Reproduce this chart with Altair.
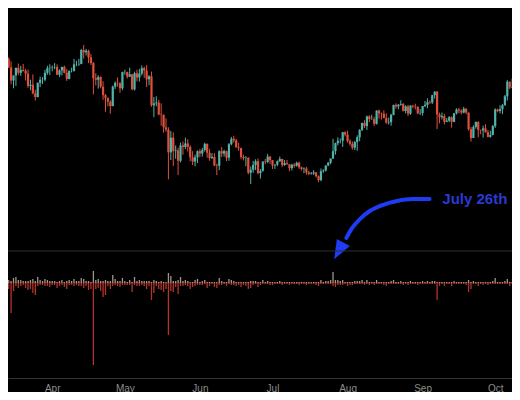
import altair as alt
import pandas as pd

# ---- daily candles, 2021-03-13 .. 2021-10-08 (price in $k) ----
first_open = 57.2
close = [
    61.2, 59.0, 55.6, 56.9, 58.9, 57.6, 58.3, 58.1, 57.4, 54.2, 54.5, 52.3, 51.3, 55.0, 55.8, 55.8, 57.6, 58.8, 58.9,
    59.0, 59.1, 57.1, 58.2, 59.1, 57.6, 56.0, 58.1, 58.1, 59.8, 59.8, 59.9, 63.5, 62.9, 63.3, 61.6, 60.1, 56.2, 55.8, 56.5,
    54.0, 51.8, 51.1, 50.1, 49.0, 54.0, 55.0, 54.9, 53.6, 57.8,
    57.8, 56.6, 57.2, 53.3, 57.5, 56.4, 57.4, 58.8, 58.2, 55.9, 56.7, 49.2, 49.7, 49.9, 46.8, 46.7, 43.5, 42.9, 37.0, 40.8,
    37.3, 37.5, 34.8, 38.8, 38.4, 39.3, 38.4, 35.7, 34.6, 35.7, 37.3,
    36.7, 37.6, 39.2, 36.9, 35.5, 35.8, 33.6, 33.5, 37.3, 36.7, 37.3, 35.6, 39.1, 40.5, 40.1, 38.3, 38.1, 35.8, 35.5, 35.6,
    31.7, 32.5, 33.7, 34.7, 31.6, 32.2, 34.6, 34.5, 35.9, 35.0,
    33.6, 33.8, 34.7, 35.3, 33.7, 34.2, 33.9, 32.9, 33.8, 33.5, 34.3, 33.1, 32.7, 32.8, 31.8, 31.4, 31.5, 31.8, 30.8, 29.8,
    32.1, 32.3, 33.6, 34.3, 35.4, 37.3, 39.4, 40.0, 40.0, 42.2, 41.6,
    39.9, 39.2, 38.2, 39.7, 40.9, 42.8, 44.6, 43.8, 46.3, 45.6, 45.6, 44.4, 47.8, 47.1, 47.0, 45.9, 44.7, 44.8, 46.7, 49.3,
    48.9, 49.3, 49.5, 47.7, 48.9, 47.0, 49.1, 48.9, 48.8, 47.1, 47.2,
    49.0, 49.3, 50.0, 49.9, 51.8, 52.7, 46.8, 46.1, 46.4, 44.9, 45.2, 46.1, 44.9, 47.1, 48.1, 47.8, 47.3, 48.3, 47.3, 43.0,
    40.7, 43.6, 44.9, 42.8, 42.7, 43.2, 42.2, 41.0, 41.5, 43.8,
    48.1, 47.7, 48.2, 49.2, 51.5, 55.3, 53.8, 53.9,
]
high = [
    61.7, 61.6, 60.6, 56.9, 58.9, 60.0, 59.4, 59.9, 58.6, 58.4, 55.8, 57.2, 53.2, 55.1, 56.6, 56.5, 58.4, 59.4, 59.8,
    59.5, 60.1, 59.8, 58.5, 59.2, 59.5, 58.6, 58.2, 58.9, 61.2, 60.7, 61.2, 63.8, 64.8, 63.8, 63.6, 62.5, 60.4, 57.5, 57.0,
    56.7, 55.4, 52.1, 51.2, 50.5, 54.3, 55.4, 56.4, 55.2, 57.9,
    58.4, 57.9, 58.9, 57.3, 57.9, 58.4, 58.6, 59.5, 59.2, 59.6, 57.0, 57.9, 51.3, 51.5, 50.6, 49.7, 46.8, 45.8, 43.5, 42.5,
    42.2, 38.8, 38.2, 39.5, 39.8, 40.8, 40.4, 38.8, 37.3, 36.4, 37.5,
    37.9, 38.2, 39.5, 39.3, 37.9, 36.8, 36.8, 34.1, 37.5, 38.4, 37.7, 37.4, 39.4, 41.0, 41.3, 40.5, 39.5, 38.2, 36.4, 36.0,
    35.7, 33.3, 34.8, 35.2, 35.4, 32.7, 34.7, 35.3, 36.6, 36.0,
    35.0, 33.9, 34.9, 35.9, 35.3, 35.0, 35.0, 33.9, 34.0, 34.2, 34.6, 34.6, 33.3, 33.1, 33.2, 32.2, 31.9, 32.4, 31.9, 31.0,
    32.8, 32.6, 33.6, 34.5, 35.4, 40.5, 39.5, 40.9, 40.6, 42.3, 42.4,
    42.6, 40.4, 39.8, 39.9, 41.4, 43.0, 44.7, 45.3, 46.5, 46.6, 46.7, 46.2, 47.9, 48.1, 47.3, 47.9, 47.1, 46.0, 47.0, 49.3,
    49.7, 49.5, 50.5, 49.8, 49.2, 49.3, 49.2, 49.3, 49.6, 48.9, 48.2,
    49.0, 50.3, 51.0, 50.5, 51.9, 52.8, 52.9, 47.3, 47.3, 47.0, 45.9, 46.4, 46.3, 47.2, 48.4, 48.5, 48.1, 48.8, 48.4, 47.3,
    43.6, 44.0, 44.9, 45.0, 42.9, 43.9, 44.3, 42.8, 42.6, 44.1,
    48.4, 48.3, 49.2, 49.5, 51.9, 55.7, 55.3, 56.1,
]
low = [
    56.1, 58.9, 54.6, 53.6, 54.2, 57.0, 56.8, 57.9, 55.6, 53.7, 53.1, 52.0, 50.4, 51.3, 53.9, 54.7, 55.4, 57.1, 57.0,
    58.0, 58.5, 57.0, 56.5, 56.9, 57.4, 55.5, 55.9, 57.7, 57.9, 59.3, 59.4, 59.8, 61.3, 62.1, 60.1, 59.6, 52.0, 54.3, 53.5,
    53.6, 50.6, 47.5, 48.9, 47.0, 48.9, 53.4, 54.0, 52.4, 53.1,
    57.1, 56.1, 56.5, 53.1, 53.0, 55.4, 55.3, 56.9, 56.3, 53.9, 54.4, 48.8, 46.1, 48.9, 46.6, 43.9, 42.1, 42.3, 30.0, 35.0,
    33.5, 35.3, 31.1, 34.4, 36.4, 37.8, 37.2, 34.7, 33.7, 33.4, 34.2,
    35.7, 35.9, 37.2, 35.6, 34.8, 35.3, 33.4, 31.1, 32.4, 35.8, 35.9, 34.7, 34.8, 38.8, 39.5, 38.2, 37.4, 35.2, 34.9, 33.4,
    31.3, 28.8, 31.7, 32.4, 31.3, 30.2, 32.0, 33.9, 34.2, 34.0,
    32.7, 32.7, 33.4, 34.5, 33.2, 33.5, 33.8, 32.1, 32.3, 33.0, 33.3, 32.7, 32.3, 31.6, 31.2, 31.1, 31.2, 31.1, 30.5, 29.3,
    29.5, 31.7, 32.0, 33.4, 33.9, 35.3, 36.4, 38.8, 39.3, 38.4, 41.1,
    39.5, 38.7, 37.7, 37.6, 37.4, 39.9, 42.5, 43.3, 42.8, 44.8, 45.4, 43.8, 44.2, 45.7, 45.5, 45.8, 44.4, 44.2, 43.9, 46.6,
    48.3, 48.1, 49.1, 47.6, 47.1, 46.4, 46.7, 48.4, 48.1, 46.9, 46.7,
    46.5, 48.7, 48.4, 49.5, 49.5, 50.9, 43.0, 44.5, 45.5, 44.2, 44.8, 44.8, 43.4, 44.8, 46.8, 47.1, 46.8, 47.1, 46.9, 42.6,
    39.8, 40.7, 43.1, 40.9, 41.7, 40.8, 42.1, 40.9, 40.8, 41.4,
    43.3, 47.4, 47.1, 46.9, 49.1, 50.4, 53.4, 53.7,
]

# ---- lower pane: liquidations (longs down, shorts up) ----
longs = [
    -0.3, -0.6, -3.0, -0.8, -0.3, -0.5, -0.3, -0.2, -0.5, -0.7, -0.6, -1.0, -1.2, -0.3, -0.2, -0.2, -0.3, -0.3, -0.4,
    -0.2, -0.2, -0.5, -0.3, -0.2, -0.4, -0.6, -0.2, -0.2, -0.3, -0.2, -0.3, -0.3, -0.5, -0.3, -0.7, -0.6, -8.2, -0.6, -0.5,
    -0.8, -1.4, -1.2, -0.3, -0.6, -0.3, -0.2, -0.3, -0.4, -0.2,
    -0.2, -0.2, -0.2, -0.9, -0.2, -0.3, -0.3, -0.2, -0.3, -0.6, -0.3, -1.7, -1.0, -0.3, -0.6, -0.7, -0.9, -0.6, -5.2, -0.8,
    -0.9, -0.4, -1.1, -0.3, -0.3, -0.2, -0.3, -0.6, -0.4, -0.3, -0.2,
    -0.2, -0.2, -0.1, -0.5, -0.3, -0.1, -0.4, -0.5, -0.2, -0.2, -0.1, -0.3, -0.1, -0.2, -0.2, -0.3, -0.2, -0.4, -0.2, -0.3,
    -0.6, -0.5, -0.2, -0.1, -0.4, -0.2, -0.1, -0.1, -0.1, -0.2,
    -0.2, -0.1, -0.1, -0.1, -0.2, -0.1, -0.1, -0.2, -0.1, -0.1, -0.1, -0.2, -0.1, -0.1, -0.2, -0.1, -0.1, -0.1, -0.2, -0.3,
    -0.1, -0.1, -0.1, -0.1, -0.1, -0.3, -0.4, -0.2, -0.2, -0.2, -0.1,
    -0.3, -0.2, -0.2, -0.1, -0.1, -0.1, -0.1, -0.2, -0.1, -0.2, -0.1, -0.2, -0.1, -0.1, -0.1, -0.2, -0.3, -0.1, -0.1, -0.1,
    -0.1, -0.1, -0.1, -0.2, -0.1, -0.2, -0.1, -0.1, -0.1, -0.2, -0.1,
    -0.1, -0.1, -0.1, -0.1, -0.1, -0.1, -1.7, -0.3, -0.1, -0.3, -0.1, -0.1, -0.3, -0.1, -0.1, -0.1, -0.1, -0.1, -0.2, -0.9,
    -0.6, -0.1, -0.1, -0.3, -0.1, -0.2, -0.1, -0.2, -0.1, -0.1,
    -0.1, -0.1, -0.1, -0.1, -0.1, -0.1, -0.3, -0.1,
]
shorts = [
    0.2, 0.3, 0.2, 0.5, 0.6, 0.3, 0.3, 0.2, 0.2, 0.2, 0.3, 0.4, 0.2, 0.6, 0.3, 0.2, 0.4, 0.3, 0.2,
    0.2, 0.2, 0.1, 0.2, 0.3, 0.1, 0.2, 0.3, 0.2, 0.4, 0.2, 0.2, 0.5, 0.4, 0.2, 0.2, 0.1, 1.2, 0.3, 0.4,
    0.2, 0.2, 0.3, 0.2, 0.2, 0.8, 0.4, 0.2, 0.2, 0.5,
    0.2, 0.1, 0.3, 0.1, 0.6, 0.2, 0.3, 0.2, 0.2, 0.2, 0.2, 0.1, 0.3, 0.2, 0.1, 0.2, 0.1, 0.1, 1.0, 0.7,
    0.2, 0.2, 0.3, 0.6, 0.2, 0.3, 0.2, 0.1, 0.1, 0.3, 0.4,
    0.1, 0.2, 0.3, 0.1, 0.1, 0.1, 0.1, 0.1, 0.5, 0.2, 0.1, 0.1, 0.4, 0.3, 0.2, 0.1, 0.1, 0.1, 0.1, 0.1,
    0.1, 0.2, 0.2, 0.2, 0.1, 0.1, 0.3, 0.1, 0.2, 0.1,
    0.1, 0.1, 0.1, 0.2, 0.1, 0.1, 0.1, 0.1, 0.1, 0.1, 0.1, 0.1, 0.1, 0.1, 0.1, 0.1, 0.1, 0.1, 0.1, 0.1,
    0.3, 0.1, 0.2, 0.2, 0.3, 1.1, 0.3, 0.3, 0.2, 0.3, 0.1,
    0.1, 0.1, 0.1, 0.2, 0.2, 0.2, 0.3, 0.1, 0.3, 0.1, 0.1, 0.1, 0.3, 0.1, 0.1, 0.1, 0.1, 0.1, 0.2, 0.3,
    0.1, 0.1, 0.2, 0.1, 0.1, 0.1, 0.2, 0.1, 0.1, 0.1, 0.1,
    0.2, 0.1, 0.2, 0.1, 0.2, 0.2, 0.1, 0.1, 0.1, 0.1, 0.1, 0.1, 0.1, 0.2, 0.1, 0.1, 0.1, 0.1, 0.1, 0.3,
    0.1, 0.2, 0.1, 0.1, 0.1, 0.1, 0.1, 0.1, 0.1, 0.2,
    0.5, 0.1, 0.1, 0.1, 0.2, 0.4, 0.1, 0.1,
]

month_labels = ["Apr", "May", "Jun", "Jul", "Aug", "Sep", "Oct"]

# ---- annotation (arrow path and label, in date / price units) ----
arrow_dates = ["2021-09-03T21:00:00Z", "2021-08-27T14:00:00Z", "2021-08-21T12:00:00Z", "2021-08-15T10:00:00Z",
               "2021-08-10T05:00:00Z", "2021-08-06T02:00:00Z", "2021-08-02T22:00:00Z", "2021-07-31T12:00:00Z"]
arrow_prices = [24.9, 24.9, 24.4, 23.35, 21.8, 19.7, 17.4, 14.8]
head_date = "2021-07-29T00:00:00Z"
head_price = 12.2
label_date = "2021-09-09T04:00:00Z"
label_price = 24.9
label_text = "July 26th Short Squeeze"
head_shape = "M -0.48 0.88 L 0.75 -0.16 L -0.27 -0.72 Z"

dates = pd.date_range("2021-03-13", periods=len(close), freq="D").strftime("%Y-%m-%d")
opens = [first_open] + close[:-1]
df = pd.DataFrame({"date": dates, "open": opens, "close": close, "high": high, "low": low,
                   "longs": longs, "shorts": shorts})
df["dir"] = ["up" if c >= o else "down" for o, c in zip(opens, close)]
df["zero"] = 0.0

arrow_df = pd.DataFrame({"date": arrow_dates, "price": arrow_prices})
head_df = pd.DataFrame({"date": [head_date], "price": [head_price]})
label_df = pd.DataFrame({"date": [label_date], "price": [label_price], "text": [label_text]})
line_df = pd.DataFrame({"v": [0.0]})
sep_df = pd.DataFrame({"v": [3.2]})

xscale = alt.Scale(type="utc", domain=[alt.DateTime(year=2021, month=3, date=15, hours=19, utc=True),
                                       alt.DateTime(year=2021, month=10, date=5, hours=21, utc=True)])
tick_vals = [alt.DateTime(year=2021, month=m, date=1, utc=True) for m in range(4, 11)]
xaxis = alt.Axis(values=tick_vals, format="%b", title=None, grid=False, ticks=False, offset=-14,
                 domainColor="#333333", domainWidth=1, labelColor="#8c8c8c", labelFontSize=10,
                 labelFont="Liberation Sans", labelPadding=5, labelFlush=False)
X = alt.X("date:T", scale=xscale, axis=xaxis)

pscale = alt.Scale(domain=[-25.09, 74.39], zero=False, nice=False)
iscale = alt.Scale(domain=[-10.9, 27.5], zero=False, nice=False)
cscale = alt.Scale(domain=["up", "down"], range=["#52b3aa", "#e0503c"])

wick = alt.Chart(df).mark_rule(strokeWidth=1, clip=True).encode(
    x=X, y=alt.Y("low:Q", scale=pscale, axis=None), y2="high:Q",
    color=alt.Color("dir:N", scale=cscale, legend=None))
body = alt.Chart(df).mark_bar(size=2.2, clip=True).encode(
    x=X, y=alt.Y("open:Q", scale=pscale, axis=None), y2="close:Q",
    color=alt.Color("dir:N", scale=cscale, legend=None))
arrow = alt.Chart(arrow_df).mark_line(color="#1f3cf5", strokeWidth=4, interpolate="monotone",
                                      strokeCap="round", clip=True).encode(
    x=X, y=alt.Y("price:Q", scale=pscale, axis=None))
head = alt.Chart(head_df).mark_point(shape=head_shape, filled=True, size=650,
                                     color="#1f3cf5", opacity=1, clip=True).encode(
    x=X, y=alt.Y("price:Q", scale=pscale, axis=None))
label = alt.Chart(label_df).mark_text(align="left", baseline="middle", fontSize=15, fontWeight="bold",
                                      font="Liberation Sans", color="#2c3ad0", clip=True).encode(
    x=X, y=alt.Y("price:Q", scale=pscale, axis=None), text="text:N")

price = alt.layer(wick, body, arrow, head, label)

sep = alt.Chart(sep_df).mark_rule(color="#2e2e2e", strokeWidth=1).encode(
    y=alt.Y("v:Q", scale=iscale, axis=None))
base = alt.Chart(line_df).mark_rule(color="#5e1a14", strokeWidth=1).encode(
    y=alt.Y("v:Q", scale=iscale, axis=None))
long_bars = alt.Chart(df).mark_rule(color="#b5342a", strokeWidth=1.3, clip=True).encode(
    x=X, y=alt.Y("longs:Q", scale=iscale, axis=None), y2="zero:Q")
short_bars = alt.Chart(df).mark_rule(color="#a0958c", strokeWidth=1.3, clip=True).encode(
    x=X, y=alt.Y("shorts:Q", scale=iscale, axis=None), y2="zero:Q")

ind = alt.layer(sep, base, long_bars, short_bars)

chart = alt.layer(price, ind).resolve_scale(y="independent").properties(
    width=504, height=384,
    autosize=alt.AutoSizeParams(type="none"),
).configure(background="#000000", padding=0).configure_view(stroke=None)

chart.save("out.html", embed_options={"renderer": "svg", "actions": False})
